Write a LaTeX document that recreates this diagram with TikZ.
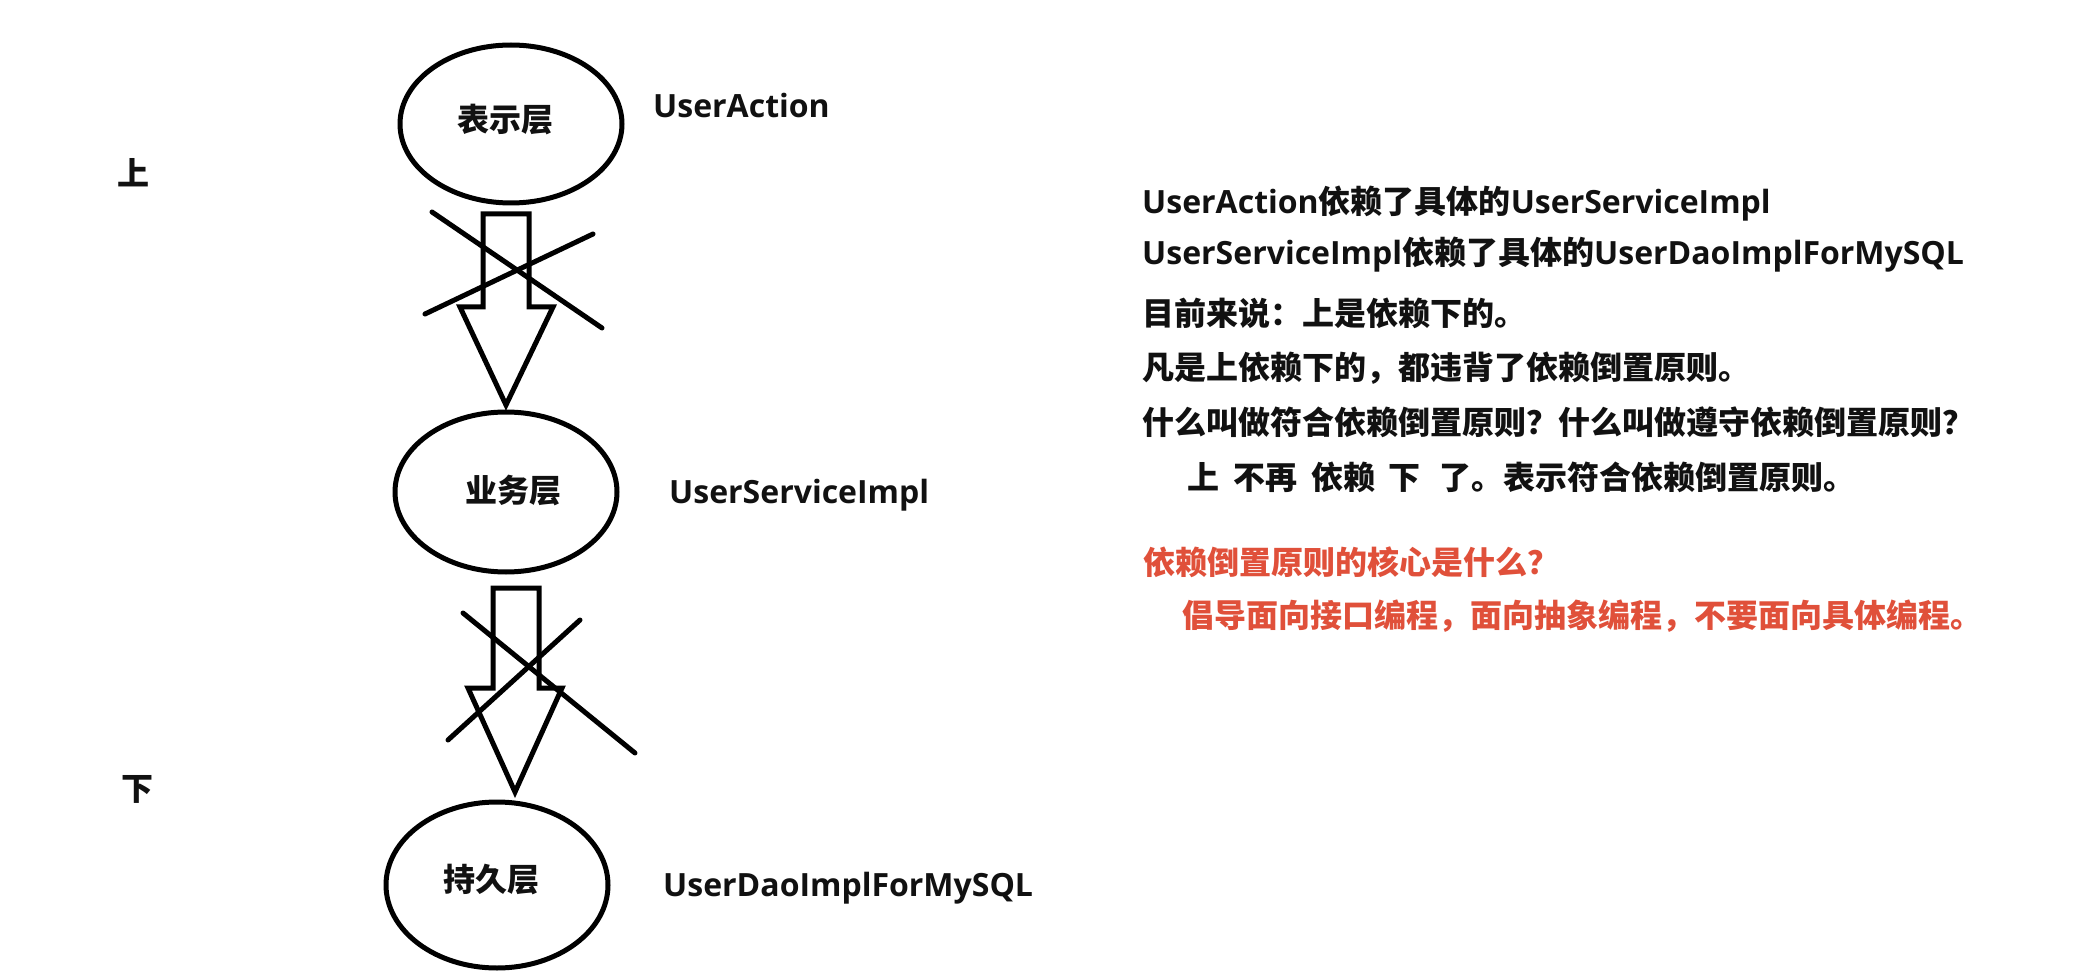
\documentclass[tikz,border=0pt]{standalone}
\usepackage{fontspec}
\setmainfont{Noto Sans CJK SC}
\newfontfamily\latfont{Open Sans}
\usetikzlibrary{shapes.geometric}
\definecolor{inkblack}{RGB}{17,17,17}
\definecolor{redtxt}{RGB}{224,80,58}
\newcommand{\lat}[1]{{\latfont\bfseries #1}}
\tikzset{
  ell/.style={draw=black, ellipse, line width=5pt, inner sep=0pt},
  txt/.style={inner sep=0pt, font=\fontsize{32}{38}\selectfont\bfseries, text=inkblack, anchor=base west},
  ctxt/.style={txt, anchor=base},
  redline/.style={txt, text=redtxt},
  blk/.style={draw=black, line width=5pt, line join=miter},
  crs/.style={draw=black, line width=5pt, line cap=round}
}
\begin{document}
\begin{tikzpicture}[x=1pt,y=-1pt]
\useasboundingbox[fill=white] (0,0) rectangle (2086,976);

% side labels
\node[ctxt] (up) at (133,186) {上};
\node[ctxt] (down) at (137,800) {下};

% layers
\node[ell, minimum width=222pt, minimum height=158pt] (e1) at (511,124) {};
\node[ctxt] (t1) at (505,132) {表示层};
\node[txt] (l1) at (653,118) {\lat{UserAction}};

\node[ell, minimum width=222pt, minimum height=160pt] (e2) at (506,492) {};
\node[ctxt] (t2) at (513,502) {业务层};
\node[txt] (l2) at (669,503) {\lat{UserServiceImpl}};

\node[ell, minimum width=222pt, minimum height=166pt] (e3) at (497,885) {};
\node[ctxt] (t3) at (491,891) {持久层};
\node[txt] (l3) at (663,896) {\lat{UserDaoImplForMySQL}};

% crossed-out block arrow 1
\draw[blk] (483,214) -- (529,214) -- (529,307) -- (553,307) -- (506,405) -- (460,307) -- (483,307) -- cycle;
\draw[crs] (432,212) -- (602,328);
\draw[crs] (425,314) -- (593,234);

% crossed-out block arrow 2
\draw[blk] (493,588) -- (539,588) -- (539,688) -- (562,688) -- (515,792) -- (468,688) -- (493,688) -- cycle;
\draw[crs] (463,613) -- (635,753);
\draw[crs] (448,740) -- (580,620);

% explanation text
\node[txt] (s1) at (1142,214) {\lat{UserAction}依赖了具体的\lat{UserServiceImpl}};
\node[txt] (s2) at (1142,265) {\lat{UserServiceImpl}依赖了具体的\lat{UserDaoImplForMySQL}};
\node[txt] (s3) at (1142,326) {目前来说：上是依赖下的。};
\node[txt] (s4) at (1142,379) {凡是上依赖下的，都违背了依赖倒置原则。};
\node[txt] (s5) at (1142,434) {什么叫做符合依赖倒置原则？什么叫做遵守依赖倒置原则？};
\node[txt] (s6) at (1187,489) {上\hspace{0.45em}不再\hspace{0.45em}依赖\hspace{0.4em}下\hspace{0.6em}了。表示符合依赖倒置原则。};

\node[redline] (r1) at (1143,574) {依赖倒置原则的核心是什么？};
\node[redline] (r2) at (1182,627) {倡导面向接口编程，面向抽象编程，不要面向具体编程。};
\end{tikzpicture}
\end{document}
